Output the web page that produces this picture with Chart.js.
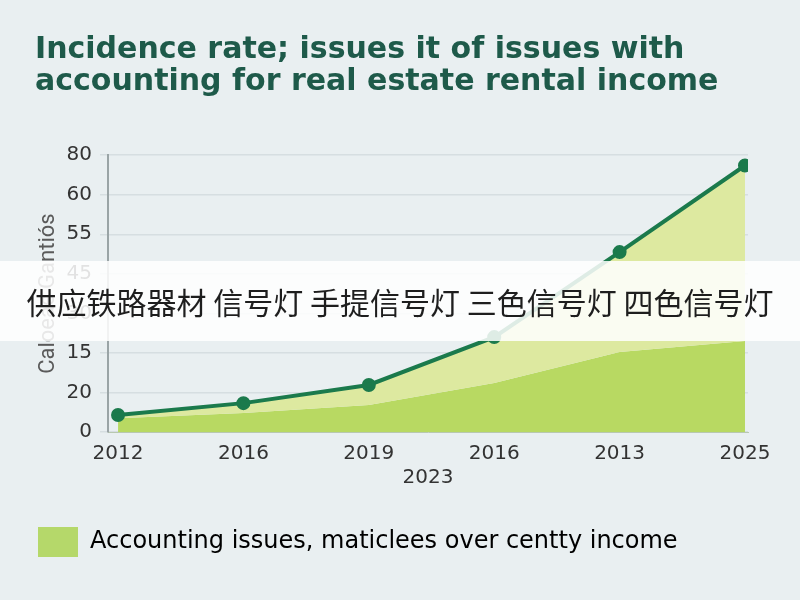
<!DOCTYPE html>
<html>
<head>
<meta charset="utf-8">
<script src="https://cdn.jsdelivr.net/npm/chart.js@4"></script>
<style>
  body { margin: 0; background: #e9eff1; }
  #wrap { position: relative; width: 800px; height: 600px; }
  #banner {
    position: absolute; left: 0; top: 261px; width: 800px; height: 80px;
    background: rgba(255, 255, 255, 0.86);
    display: flex; align-items: center; justify-content: center;
    font-family: "Noto Sans CJK SC", sans-serif; font-size: 30px; color: #1e1e1e;
    white-space: nowrap;
  }
</style>
</head>
<body>
<div id="wrap">
  <canvas id="chart" width="800" height="600"></canvas>
  <div id="banner">供应铁路器材 信号灯 手提信号灯 三色信号灯 四色信号灯</div>
</div>
<script>
const years = ['2012', '2016', '2019', '2016', '2013', '2025'];
const yLabels = ['0', '20', '15', '30', '45', '55', '60', '80'];
const incidence = [0.43, 0.73, 1.19, 2.4, 4.55, 6.74];
const accounting = [0.35, 0.48, 0.68, 1.24, 2.02, 2.3];

const ctx = document.getElementById('chart').getContext('2d');
const chart = new Chart(ctx, {
    type: 'line',
    data: {
        datasets: [{
            label: 'Incidence rate',
            data: incidence.map((v, i) => ({ x: i, y: v })),
            borderColor: '#1b7a4c',
            borderWidth: 4,
            pointBackgroundColor: '#1b7a4c',
            pointBorderColor: '#1b7a4c',
            pointRadius: 5,
            backgroundColor: '#dde9a0',
            fill: 1,
            tension: 0
        }, {
            label: 'Accounting issues, maticlees over centty income',
            data: accounting.map((v, i) => ({ x: i, y: v })),
            borderColor: 'rgba(0,0,0,0)',
            borderWidth: 0,
            pointRadius: 0,
            backgroundColor: '#b8d962',
            fill: 'origin',
            tension: 0
        }]
    },
    options: {
        responsive: false,
        animation: false,
        layout: { padding: { left: 35, right: 52, top: 10, bottom: 33 } },
        plugins: {
            title: {
                display: true,
                text: ['Incidence rate; issues it of issues with', 'accounting for real estate rental income'],
                align: 'start',
                color: '#1e5a4a',
                font: { family: 'DejaVu Sans', size: 30, weight: 'bold', lineHeight: 1.07 },
                padding: { top: 24, bottom: 57 }
            },
            legend: {
                position: 'bottom',
                align: 'start',
                labels: {
                    boxWidth: 40,
                    boxHeight: 30,
                    color: '#333',
                    padding: 3,
                    font: { family: 'DejaVu Sans', size: 24 },
                    generateLabels: c => [{
                        text: c.data.datasets[1].label,
                        fillStyle: '#b5d86a',
                        strokeStyle: '#b5d86a',
                        lineWidth: 0,
                        datasetIndex: 1
                    }]
                }
            },
            tooltip: { enabled: false }
        },
        scales: {
            x: {
                type: 'linear',
                min: -0.08,
                max: 5.024,
                afterBuildTicks: s => { s.ticks = years.map((_, i) => ({ value: i })); },
                ticks: {
                    callback: v => years[v],
                    color: '#333',
                    font: { family: 'DejaVu Sans', size: 20 },
                    maxRotation: 0,
                    padding: 2
                },
                grid: { display: false },
                border: { display: true, color: '#b8c8b0' },
                title: {
                    display: true,
                    text: '2023',
                    color: '#333',
                    font: { family: 'DejaVu Sans', size: 20 },
                    padding: { top: -2, bottom: 34 }
                }
            },
            y: {
                min: 0,
                max: 7,
                afterBuildTicks: s => { s.ticks = yLabels.map((_, i) => ({ value: i })); },
                afterFit: s => { s.width = 73; },
                ticks: {
                    callback: v => yLabels[v],
                    color: '#333',
                    font: { family: 'DejaVu Sans', size: 20 },
                    padding: 8
                },
                grid: { color: '#d6dee1', lineWidth: 1.5 },
                border: { color: '#9aa4a6', width: 2 },
                title: {
                    display: true,
                    text: 'Caloeae Gantiós',
                    color: '#5a5a5a',
                    font: { family: 'Roboto', size: 22 },
                    padding: 0
                }
            }
        }
    }
});
</script>
</body>
</html>
